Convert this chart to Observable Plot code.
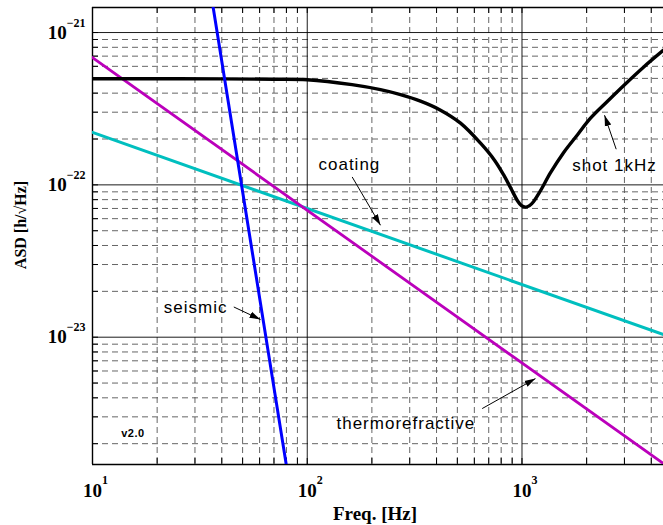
<!DOCTYPE html>
<html><head><meta charset="utf-8">
<script src="https://cdn.jsdelivr.net/npm/d3@7"></script>
<script src="https://cdn.jsdelivr.net/npm/@observablehq/plot@0.6"></script>
<style>
html,body{margin:0;padding:0;background:#fff;overflow:hidden}
#chart svg{display:block;background:#fff}
g[aria-label="y-axis tick label"] text, g[aria-label="x-axis tick label"] text{font-family:"Liberation Serif","Times New Roman",serif;font-weight:bold;font-size:19px;fill:#000}
</style></head><body><div id="chart"></div>
<script>
// ---- axes / ticks ----
const xDomain = [10, 4560];
const yDomain = [1.46e-24, 1.46e-21];
const xMajor = [100, 1000];
const xMinor = [20,30,40,50,60,70,80,90,200,300,400,500,600,700,800,900,2000,3000,4000];
const yMajor = [1e-21, 1e-22, 1e-23];
const yMinor = [2e-24,3e-24,4e-24,5e-24,6e-24,7e-24,8e-24,9e-24,
                2e-23,3e-23,4e-23,5e-23,6e-23,7e-23,8e-23,9e-23,
                2e-22,3e-22,4e-22,5e-22,6e-22,7e-22,8e-22,9e-22];
const xTickLabels = [10, 100, 1000];
const yTickLabels = [1e-21, 1e-22, 1e-23];
const xTitle = "Freq. [Hz]";
const yTitle = "ASD [h/\u221AHz]";

// ---- series ----
const shotFreq = [10, 20, 40, 70, 100, 161.6, 219.3, 271.8, 336.8, 417.5, 517.3, 641.1, 744.6, 825.3, 886.9, 952.9, 994.7, 1038, 1084, 1131, 1220, 1358, 1561, 1814, 2085, 2502, 2970, 3680, 4560];
const shotASD  = [4.977e-22, 4.977e-22, 4.965e-22, 4.94e-22, 4.902e-22, 4.547e-22, 4.215e-22, 3.908e-22, 3.542e-22, 3.092e-22, 2.541e-22, 1.877e-22, 1.452e-22, 1.149e-22, 9.51e-23, 7.87e-23, 7.30e-23, 7.14e-23, 7.30e-23, 7.75e-23, 9.16e-23, 1.202e-22, 1.627e-22, 2.135e-22, 2.740e-22, 3.541e-22, 4.478e-22, 5.922e-22, 7.66e-22];
const coatingFreq = [10, 4560];
const coatingASD  = [2.21e-22, 1.04e-23];
const thermoFreq = [10, 4560];
const thermoASD  = [6.85e-22, 1.48e-24];
const seismicFreq = [35, 85];
const seismicASD  = [2.1e-21, 8.4e-25];

// ---- annotations ----
const annotText = ["coating", "shot 1kHz", "seismic", "thermorefractive"];
const annotFreq = [112.8, 1713, 21.48, 136.8];
const annotASD  = [1.261e-22, 1.229e-22, 1.438e-23, 2.485e-24];
const arrowFreq1 = [161.9, 2746, 45.5, 652.6];
const arrowASD1  = [1.127e-22, 1.714e-22, 1.579e-23, 3.40e-24];
const arrowFreq2 = [219.3, 2423, 60.58, 1156];
const arrowASD2  = [5.43e-23, 2.866e-22, 1.306e-23, 5.35e-24];
const versionText = ["v2.0"];
const versionFreq = [13.6];
const versionASD = [2.22e-24];

const W = 663, H = 525, mL = 92, mR = 0, mT = 7, mB = 61;
const pW = W - mL - mR, pH = H - mT - mB;

const toRows = (fs, as) => fs.map((f, i) => ({f, a: as[i]}));
const shot = toRows(shotFreq, shotASD);
const coating = toRows(coatingFreq, coatingASD);
const thermo = toRows(thermoFreq, thermoASD);
const seismic = toRows(seismicFreq, seismicASD);
const annots = annotText.map((t, i) => ({t, f: annotFreq[i], a: annotASD[i]}));
const arrows = arrowFreq1.map((f, i) => ({f1: f, a1: arrowASD1[i], f2: arrowFreq2[i], a2: arrowASD2[i]}));
const version = versionText.map((t, i) => ({t, f: versionFreq[i], a: versionASD[i]}));
const xAllTicks = xMinor.concat(xMajor);
const yAllTicks = yMinor.concat(yMajor);
const expFmt = d => "10|" + String(Math.round(Math.log10(d))).replace("-", "\u2212");

const gridDash = {stroke: "#555", strokeWidth: 0.9, strokeDasharray: "6,4"};

const chart = Plot.plot({
  width: W, height: H,
  marginLeft: mL, marginRight: mR, marginTop: mT, marginBottom: mB,
  style: {background: "#fff"},
  x: {type: "log", domain: xDomain},
  y: {type: "log", domain: yDomain},
  marks: [
    Plot.ruleY(yMinor, gridDash),
    Plot.ruleX(xMinor, gridDash),
    Plot.ruleY(yMajor, {stroke: "#000", strokeWidth: 0.9}),
    Plot.ruleX(xMajor, {stroke: "#000", strokeWidth: 0.9}),
    Plot.ruleX(xAllTicks, {stroke: "#000", strokeWidth: 1, insetTop: pH - 6}),
    Plot.ruleX(xAllTicks, {stroke: "#000", strokeWidth: 1, insetBottom: pH - 6}),
    Plot.ruleY(yAllTicks, {stroke: "#000", strokeWidth: 1, insetRight: pW - 6}),
    Plot.ruleX([xDomain[0]], {stroke: "#000", strokeWidth: 1.4}),
    Plot.ruleY(yDomain, {stroke: "#000", strokeWidth: 1.4}),
    Plot.line(coating, {x: "f", y: "a", stroke: "#00bfbf", strokeWidth: 3, clip: true}),
    Plot.line(thermo, {x: "f", y: "a", stroke: "#bb00bb", strokeWidth: 2.8, clip: true}),
    Plot.line(shot, {x: "f", y: "a", stroke: "#000", strokeWidth: 3.4, curve: "catmull-rom", clip: true}),
    Plot.line(seismic, {x: "f", y: "a", stroke: "#0000ff", strokeWidth: 3, clip: true}),
    Plot.text(annots, {x: "f", y: "a", text: "t", textAnchor: "start", lineAnchor: "bottom",
      fontFamily: "Liberation Sans, Arial, sans-serif", fontSize: 17, fill: "#000"}),
    Plot.text(version, {x: "f", y: "a", text: "t", textAnchor: "start", lineAnchor: "bottom",
      fontFamily: "Liberation Sans, Arial, sans-serif", fontSize: 11, fontWeight: "bold", fill: "#000"}),
    Plot.link(arrows, {x1: "f1", y1: "a1", x2: "f2", y2: "a2", stroke: "#000", strokeWidth: 1, markerEnd: "arrow"}),
    Plot.axisX(xTickLabels, {anchor: "bottom", tickSize: 0, tickPadding: 19, tickFormat: expFmt}),
    Plot.axisY(yTickLabels, {anchor: "left", tickSize: 0, tickPadding: 7, tickFormat: expFmt}),
    Plot.text([xTitle], {frameAnchor: "bottom", dy: 55, dx: -3, lineAnchor: "bottom",
      fontFamily: "Liberation Serif, Times New Roman, serif", fontWeight: "bold", fontSize: 19, fill: "#000"})
  ]
});

const NS = "http://www.w3.org/2000/svg";
// superscript exponents on tick labels
function supify(label, isX) {
  chart.querySelectorAll(`g[aria-label="${label}"] text`).forEach(t => {
    const [base, exp] = t.textContent.split("|");
    t.textContent = "";
    const a = document.createElementNS(NS, "tspan"); a.textContent = base; t.appendChild(a);
    const b = document.createElementNS(NS, "tspan"); b.textContent = exp;
    b.setAttribute("dy", isX ? "-13" : "-12"); b.style.fontSize = "12px";
    t.appendChild(b);
    if (isX) { t.setAttribute("text-anchor", "start"); t.setAttribute("dx", "-9.5"); }
  });
}
supify("x-axis tick label", true);
supify("y-axis tick label", false);

// wider letter spacing on annotation labels
chart.querySelectorAll("text").forEach(t => {
  if (annotText.includes(t.textContent)) t.style.letterSpacing = "1px";
  if (versionText.includes(t.textContent)) t.style.letterSpacing = "0.5px";
});

// y-axis title
d3.select(chart).append("text")
  .attr("transform", "translate(20,225) rotate(-90)")
  .attr("text-anchor", "middle").attr("dy", "0.35em")
  .attr("font-family", "Liberation Serif, Times New Roman, serif")
  .attr("font-weight", "bold").attr("font-size", 16).attr("fill", "#000")
  .text(yTitle);

// filled arrowheads
chart.querySelectorAll("marker").forEach(m => {
  m.setAttribute("viewBox", "-10 -4 10 8");
  m.setAttribute("markerWidth", "11");
  m.setAttribute("markerHeight", "8.8");
  m.setAttribute("fill", "#000");
  m.setAttribute("stroke", "none");
  m.innerHTML = "";
  const p = document.createElementNS(NS, "path");
  p.setAttribute("d", "M-10,-3L0,0L-10,3Z");
  m.appendChild(p);
});

document.getElementById("chart").appendChild(chart);
</script></body></html>
